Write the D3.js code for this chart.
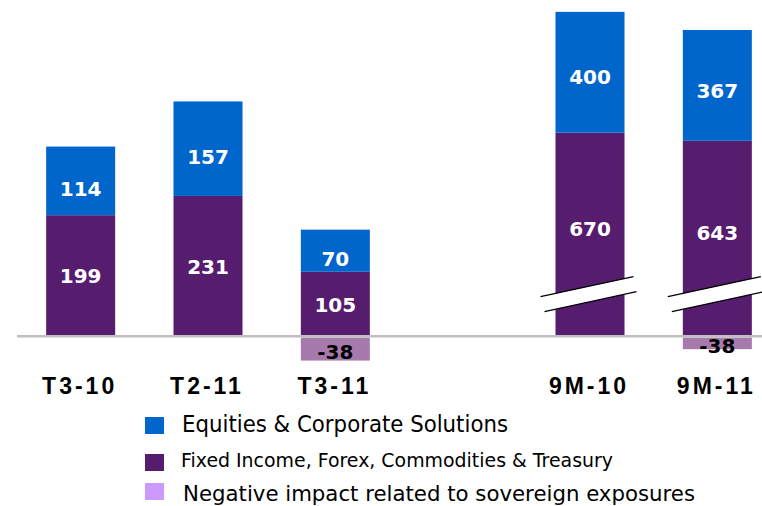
<!DOCTYPE html>
<html>
<head>
<meta charset="utf-8">
<script src="https://cdn.jsdelivr.net/npm/d3@7/dist/d3.min.js"></script>
<style>
  html, body { margin: 0; padding: 0; background: #fff; }
  svg { display: block; }
</style>
</head>
<body>
<script>
// ---- data ----
const categories = ["T3-10", "T2-11", "T3-11", "9M-10", "9M-11"];
const slots = ["T3-10", "T2-11", "T3-11", "gap", "9M-10", "9M-11"];
const fixedIncome = [199, 231, 105, 670, 643];
const equities = [114, 157, 70, 400, 367];
const sovereign = [0, 0, -38, 0, -38];
const scaleGroup = ["Q", "Q", "Q", "9M", "9M"];   // 9M bars drawn on a broken (halved) axis
const legendLabels = [
  "Equities & Corporate Solutions",
  "Fixed Income, Forex, Commodities & Treasury",
  "Negative impact related to sovereign exposures"
];

// ---- style ----
const W = 762, H = 506;
const cBlue = "#0066cc", cPurple = "#561c6e", cNeg = "#a77aae", cNegLegend = "#cc99ff";

const svg = d3.select("body").append("svg").attr("width", W).attr("height", H);

const x = d3.scaleBand().domain(slots).range([17, 781]).paddingInner(0.458).paddingOuter(0.229);
const yQ = d3.scaleLinear().domain([0, 500]).range([335, 34]);
const y9 = d3.scaleLinear().domain([0, 1000]).range([335, 33]);
const yOf = i => scaleGroup[i] === "Q" ? yQ : y9;

const data = categories.map((c, i) => ({ c, i, fi: fixedIncome[i], eq: equities[i], neg: sovereign[i], y: yOf(i) }));

const bw = x.bandwidth();

// baseline
svg.append("line")
  .attr("x1", 17).attr("x2", W)
  .attr("y1", 336.3).attr("y2", 336.3)
  .attr("stroke", "#bfbfbf").attr("stroke-width", 2.5);

const g = svg.selectAll("g.bar").data(data).join("g").attr("class", "bar");

// fixed income
g.append("rect")
  .attr("x", d => x(d.c)).attr("width", bw)
  .attr("y", d => d.y(d.fi)).attr("height", d => d.y(0) - d.y(d.fi))
  .attr("fill", cPurple);
// equities
g.append("rect")
  .attr("x", d => x(d.c)).attr("width", bw)
  .attr("y", d => d.y(d.fi + d.eq)).attr("height", d => d.y(d.fi) - d.y(d.fi + d.eq))
  .attr("fill", cBlue);
// negative
g.filter(d => d.neg < 0).append("rect")
  .attr("x", d => x(d.c)).attr("width", bw)
  .attr("y", d => d.y(0) + 2.7).attr("height", d => d.y(d.neg) - d.y(0))
  .attr("fill", cNeg);

// axis breaks on 9M bars
const breakVal = 160;
g.filter(d => scaleGroup[d.i] === "9M").each(function(d) {
  const sel = d3.select(this);
  const x0 = x(d.c) - 15, x1 = x0 + 93;
  const yc = d.y(breakVal);
  const rise = 20, gap = 15;
  const a = [x0, yc + rise / 2], b = [x1, yc - rise / 2];
  sel.append("path")
    .attr("d", `M${a[0]},${a[1]} L${b[0]},${b[1]} L${b[0] + 3},${b[1] + gap} L${a[0] + 4},${a[1] + gap} Z`)
    .attr("fill", "#fff");
  sel.append("line").attr("x1", a[0]).attr("y1", a[1]).attr("x2", b[0]).attr("y2", b[1])
    .attr("stroke", "#000").attr("stroke-width", 1.2);
  sel.append("line").attr("x1", a[0] + 4).attr("y1", a[1] + gap).attr("x2", b[0] + 3).attr("y2", b[1] + gap)
    .attr("stroke", "#000").attr("stroke-width", 1.2);
});

// value labels
const lblFont = "'DejaVu Sans', Verdana, sans-serif";
g.append("text")
  .attr("x", d => x(d.c) + bw / 2)
  .attr("y", d => (d.y(0) + d.y(d.fi)) / 2 + (scaleGroup[d.i] === "Q" ? 1 : -5))
  .attr("dy", "0.36em")
  .attr("text-anchor", "middle")
  .attr("fill", "#fff").attr("font-family", lblFont).attr("font-weight", "bold").attr("font-size", 20)
  .text(d => d.fi);
g.append("text")
  .attr("x", d => x(d.c) + bw / 2)
  .attr("y", d => (d.y(d.fi) + d.y(d.fi + d.eq)) / 2 + (scaleGroup[d.i] === "Q" ? 8 : 5))
  .attr("dy", "0.36em")
  .attr("text-anchor", "middle")
  .attr("fill", "#fff").attr("font-family", lblFont).attr("font-weight", "bold").attr("font-size", 20)
  .text(d => d.eq);
g.filter(d => d.neg < 0).append("text")
  .attr("x", d => x(d.c) + bw / 2)
  .attr("y", d => (d.y(0) + d.y(d.neg)) / 2 + 5)
  .attr("dy", "0.36em")
  .attr("text-anchor", "middle")
  .attr("fill", "#000").attr("font-family", lblFont).attr("font-weight", "bold").attr("font-size", 20)
  .text(d => d.neg);

// category labels
svg.selectAll("text.cat").data(data).join("text").attr("class", "cat")
  .attr("x", d => x(d.c) + bw / 2 - 1)
  .attr("y", 394)
  .attr("text-anchor", "middle")
  .attr("font-family", "'Liberation Sans', Arial, sans-serif")
  .attr("font-weight", "bold").attr("font-size", 23)
  .attr("letter-spacing", "3px")
  .attr("fill", "#000")
  .text(d => d.c);

// legend
const legendColors = [cBlue, cPurple, cNegLegend];
const legendY = [417, 454, 483];
const legendBase = [432, 467, 501];
const legendSize = [22.5, 19.5, 22];
const legendX = [182, 181, 183];
const legendW = [326, 432, 512];
const lg = svg.selectAll("g.leg").data(legendLabels).join("g").attr("class", "leg");
lg.append("rect")
  .attr("x", 145).attr("y", (d, i) => legendY[i])
  .attr("width", 19).attr("height", 17)
  .attr("fill", (d, i) => legendColors[i]);
lg.append("text")
  .attr("x", (d, i) => legendX[i])
  .attr("y", (d, i) => legendBase[i])
  .attr("font-family", "'DejaVu Sans', sans-serif")
  .attr("font-size", (d, i) => legendSize[i])
  .attr("textLength", (d, i) => legendW[i])
  .attr("lengthAdjust", "spacingAndGlyphs")
  .attr("fill", "#000")
  .text(d => d);
</script>
</body>
</html>
